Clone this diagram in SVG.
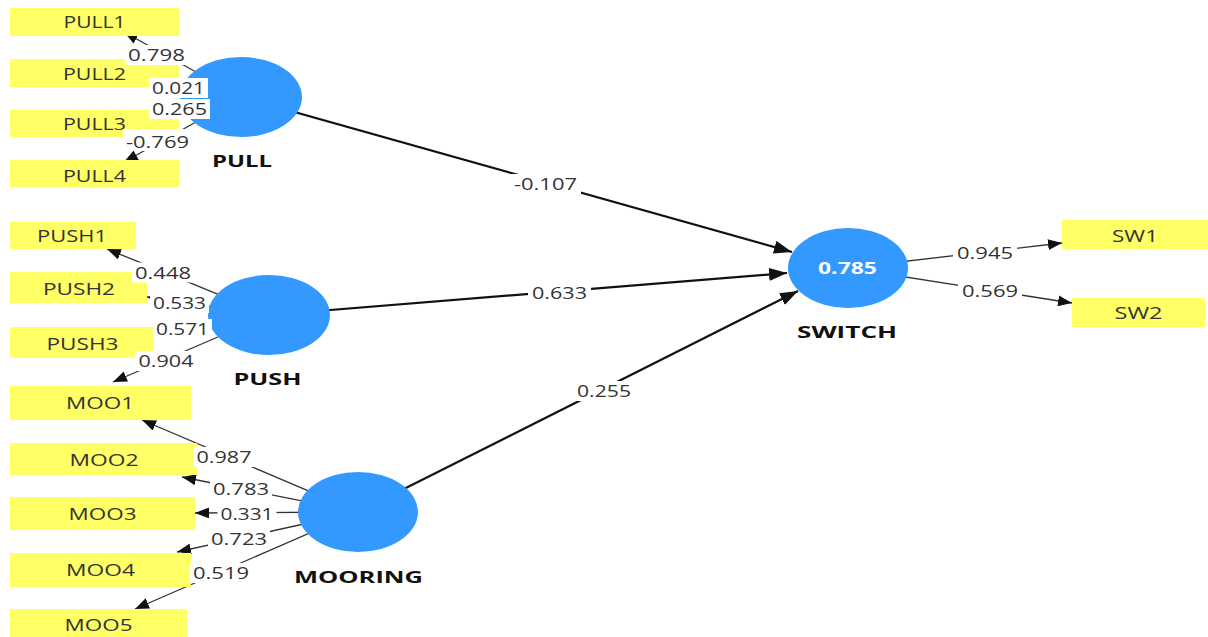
<svg xmlns="http://www.w3.org/2000/svg" width="1208" height="637" viewBox="0 0 1208 637">
<style>
.ind{fill:#ffff66}
.lv{fill:#3399ff}
.it{font-family:"Open Sans","Liberation Sans",sans-serif;font-size:16.5px;fill:#333;text-anchor:middle}
.lt{font-family:"Open Sans","Liberation Sans",sans-serif;font-size:16.5px;font-weight:bold;fill:#111;text-anchor:middle}
.r2{font-family:"Open Sans","Liberation Sans",sans-serif;font-size:16.5px;font-weight:bold;fill:#fff;text-anchor:middle}
.el{font-family:"Open Sans","Liberation Sans",sans-serif;font-size:16.5px;fill:#333;text-anchor:middle}
.bg{fill:#fff}
.m{stroke:#333;stroke-width:1.3;fill:none;marker-end:url(#am)}
.s{stroke:#111;stroke-width:2.2;fill:none;marker-end:url(#as)}
</style>
<defs>
<marker id="am" markerUnits="userSpaceOnUse" viewBox="0 0 14 11" markerWidth="14" markerHeight="11" refX="14" refY="5.5" orient="auto"><path d="M0,0 L14,5.5 L0,11 Z" fill="#111"/></marker>
<marker id="as" markerUnits="userSpaceOnUse" viewBox="0 0 18 13" markerWidth="18" markerHeight="13" refX="18" refY="6.5" orient="auto"><path d="M0,0 L18,6.5 L0,13 Z" fill="#111"/></marker>
</defs>
<rect width="1208" height="637" fill="#fff"/>
<g id="connectors">
<line class="m" x1="241" y1="97" x2="124" y2="32"/>
<line class="m" x1="241" y1="97" x2="179" y2="87"/>
<line class="m" x1="241" y1="97" x2="179" y2="107"/>
<line class="m" x1="241" y1="97" x2="124" y2="162"/>
<line class="m" x1="269" y1="315" x2="107" y2="249"/>
<line class="m" x1="269" y1="315" x2="147" y2="297"/>
<line class="m" x1="269" y1="315" x2="154" y2="333"/>
<line class="m" x1="269" y1="315" x2="113" y2="382"/>
<line class="m" x1="358" y1="512" x2="142" y2="420"/>
<line class="m" x1="358" y1="512" x2="182" y2="477"/>
<line class="m" x1="358" y1="512" x2="195" y2="513"/>
<line class="m" x1="358" y1="512" x2="177" y2="552"/>
<line class="m" x1="358" y1="512" x2="135" y2="609"/>
<line class="s" x1="241" y1="97" x2="792" y2="252"/>
<line class="s" x1="269" y1="315" x2="787" y2="273"/>
<line class="s" x1="358" y1="512" x2="798" y2="291"/>
<line class="m" x1="848" y1="268" x2="1062" y2="243"/>
<line class="m" x1="848" y1="268" x2="1072" y2="303"/>
</g>
<g id="PULL"><ellipse class="lv" cx="241" cy="97" rx="61" ry="40"/><text class="lt" x="242" y="167" textLength="60" lengthAdjust="spacingAndGlyphs">PULL</text></g>
<g id="PUSH"><ellipse class="lv" cx="269" cy="315" rx="61" ry="40"/><text class="lt" x="267.5" y="385" textLength="68" lengthAdjust="spacingAndGlyphs">PUSH</text></g>
<g id="MOORING"><ellipse class="lv" cx="358" cy="512" rx="60" ry="40"/><text class="lt" x="358.5" y="583" textLength="129" lengthAdjust="spacingAndGlyphs">MOORING</text></g>
<g id="SWITCH"><ellipse class="lv" cx="848" cy="268" rx="60" ry="40"/><text class="r2" x="847.5" y="274" textLength="59" lengthAdjust="spacingAndGlyphs">0.785</text><text class="lt" x="847" y="338" textLength="100" lengthAdjust="spacingAndGlyphs">SWITCH</text></g>
<g id="PULL1"><rect class="ind" x="10" y="8" width="169" height="28"/><text class="it" x="94.5" y="28" textLength="62" lengthAdjust="spacingAndGlyphs">PULL1</text></g>
<g id="PULL2"><rect class="ind" x="10" y="59" width="169" height="28"/><text class="it" x="94.5" y="80" textLength="63" lengthAdjust="spacingAndGlyphs">PULL2</text></g>
<g id="PULL3"><rect class="ind" x="10" y="110" width="169" height="27"/><text class="it" x="94.5" y="130" textLength="63" lengthAdjust="spacingAndGlyphs">PULL3</text></g>
<g id="PULL4"><rect class="ind" x="10" y="160" width="169" height="27"/><text class="it" x="94.5" y="182" textLength="63" lengthAdjust="spacingAndGlyphs">PULL4</text></g>
<g id="PUSH1"><rect class="ind" x="10" y="222" width="126" height="27"/><text class="it" x="72" y="242" textLength="70" lengthAdjust="spacingAndGlyphs">PUSH1</text></g>
<g id="PUSH2"><rect class="ind" x="10" y="272" width="137" height="31"/><text class="it" x="79" y="295" textLength="72" lengthAdjust="spacingAndGlyphs">PUSH2</text></g>
<g id="PUSH3"><rect class="ind" x="10" y="327" width="144" height="31"/><text class="it" x="82.5" y="350" textLength="72" lengthAdjust="spacingAndGlyphs">PUSH3</text></g>
<g id="MOO1"><rect class="ind" x="10" y="386" width="181" height="34"/><text class="it" x="100" y="409" textLength="68" lengthAdjust="spacingAndGlyphs">MOO1</text></g>
<g id="MOO2"><rect class="ind" x="10" y="443" width="187" height="32"/><text class="it" x="104" y="466" textLength="69" lengthAdjust="spacingAndGlyphs">MOO2</text></g>
<g id="MOO3"><rect class="ind" x="10" y="497" width="185" height="33"/><text class="it" x="102.5" y="520" textLength="68" lengthAdjust="spacingAndGlyphs">MOO3</text></g>
<g id="MOO4"><rect class="ind" x="10" y="553" width="181" height="34"/><text class="it" x="100.5" y="576" textLength="69" lengthAdjust="spacingAndGlyphs">MOO4</text></g>
<g id="MOO5"><rect class="ind" x="10" y="609" width="177" height="28"/><text class="it" x="98.5" y="631" textLength="68" lengthAdjust="spacingAndGlyphs">MOO5</text></g>
<g id="SW1"><rect class="ind" x="1062" y="220" width="146" height="29"/><text class="it" x="1135" y="242" textLength="46" lengthAdjust="spacingAndGlyphs">SW1</text></g>
<g id="SW2"><rect class="ind" x="1072" y="298" width="133" height="29"/><text class="it" x="1138.5" y="319" textLength="48" lengthAdjust="spacingAndGlyphs">SW2</text></g>
<g id="edge-labels">
<rect class="bg" x="125" y="45" width="63" height="20"/><text class="el" x="156.5" y="61" textLength="57" lengthAdjust="spacingAndGlyphs">0.798</text>
<rect class="bg" x="149" y="78" width="59" height="20"/><text class="el" x="178.5" y="94" textLength="53" lengthAdjust="spacingAndGlyphs">0.021</text>
<rect class="bg" x="149" y="99" width="61" height="20"/><text class="el" x="179.5" y="115" textLength="55" lengthAdjust="spacingAndGlyphs">0.265</text>
<rect class="bg" x="123" y="129" width="69" height="22"/><text class="el" x="157.5" y="148" textLength="63" lengthAdjust="spacingAndGlyphs">-0.769</text>
<rect class="bg" x="132" y="262.5" width="62" height="20"/><text class="el" x="163" y="278.5" textLength="56" lengthAdjust="spacingAndGlyphs">0.448</text>
<rect class="bg" x="150" y="293" width="59" height="20"/><text class="el" x="179.5" y="309" textLength="53" lengthAdjust="spacingAndGlyphs">0.533</text>
<rect class="bg" x="153" y="319" width="59" height="20"/><text class="el" x="182.5" y="335" textLength="53" lengthAdjust="spacingAndGlyphs">0.571</text>
<rect class="bg" x="135.5" y="351" width="61" height="20"/><text class="el" x="166" y="367" textLength="55" lengthAdjust="spacingAndGlyphs">0.904</text>
<rect class="bg" x="193.5" y="447" width="61" height="20"/><text class="el" x="224" y="463" textLength="55" lengthAdjust="spacingAndGlyphs">0.987</text>
<rect class="bg" x="210" y="479" width="62" height="20"/><text class="el" x="241" y="495" textLength="56" lengthAdjust="spacingAndGlyphs">0.783</text>
<rect class="bg" x="217.5" y="504" width="59" height="20"/><text class="el" x="247" y="520" textLength="53" lengthAdjust="spacingAndGlyphs">0.331</text>
<rect class="bg" x="208" y="529" width="62" height="20"/><text class="el" x="239" y="545" textLength="56" lengthAdjust="spacingAndGlyphs">0.723</text>
<rect class="bg" x="190" y="563" width="62" height="20"/><text class="el" x="221" y="579" textLength="56" lengthAdjust="spacingAndGlyphs">0.519</text>
<rect class="bg" x="510" y="174" width="71" height="20"/><text class="el" x="545.5" y="190" textLength="63" lengthAdjust="spacingAndGlyphs">-0.107</text>
<rect class="bg" x="528" y="283" width="63" height="20"/><text class="el" x="559.5" y="299" textLength="55" lengthAdjust="spacingAndGlyphs">0.633</text>
<rect class="bg" x="573" y="381" width="62" height="20"/><text class="el" x="604" y="397" textLength="54" lengthAdjust="spacingAndGlyphs">0.255</text>
<rect class="bg" x="953" y="243" width="64" height="20"/><text class="el" x="985" y="259" textLength="56" lengthAdjust="spacingAndGlyphs">0.945</text>
<rect class="bg" x="958" y="281" width="64" height="20"/><text class="el" x="990" y="297" textLength="56" lengthAdjust="spacingAndGlyphs">0.569</text>
</g>
</svg>
